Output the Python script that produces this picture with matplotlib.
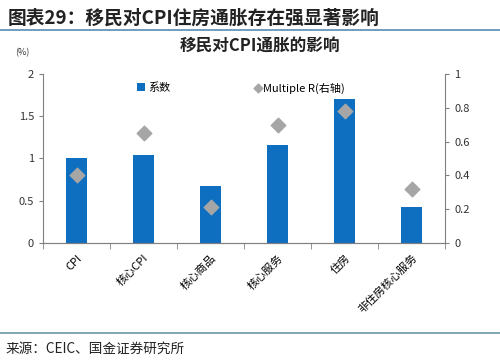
import matplotlib
matplotlib.use('Agg')
import matplotlib.pyplot as plt
import numpy as np

plt.rcParams['font.family'] = ['Noto Sans CJK SC', 'DejaVu Sans']

# dados
categorias = ['CPI', '核心CPI', '核心商品', '核心服务', '住房', '非住房核心服务']
coeficientes = [1.00, 1.04, 0.67, 1.16, 1.70, 0.43]
multiple_r = [0.40, 0.65, 0.21, 0.70, 0.78, 0.32]

cor_barra = '#0E6EBF'
cor_losango = '#A6A6A6'

fig = plt.figure(figsize=(5, 3.61), dpi=100)
ax = fig.add_axes([0.086, 0.327, 0.804, 0.468])
ax2 = ax.twinx()

x = np.arange(len(categorias))
ax.bar(x, coeficientes, width=0.31, color=cor_barra, label='系数', zorder=2)
ax2.scatter(x, multiple_r, marker='D', s=55, color=cor_losango, label='Multiple R(右轴)', zorder=3)

ax.set_xlim(-0.5, len(categorias) - 0.5)
ax.set_ylim(0, 2)
ax2.set_ylim(0, 1)
ax.set_yticks([0, 0.5, 1, 1.5, 2])
ax.set_yticklabels(['0', '0.5', '1', '1.5', '2'])
ax2.set_yticks([0, 0.2, 0.4, 0.6, 0.8, 1])
ax2.set_yticklabels(['0', '0.2', '0.4', '0.6', '0.8', '1'])

# marcas do eixo x entre as categorias
ax.set_xticks(x)
ax.set_xticklabels(categorias, rotation=45, ha='right', rotation_mode='anchor', fontsize=8)
ax.tick_params(axis='x', length=0, pad=7)
ax.set_xticks(np.arange(-0.5, len(categorias)), minor=True)
ax.tick_params(axis='x', which='minor', length=4, color='#808080')

for a in (ax, ax2):
    a.spines['top'].set_visible(False)
    for s in a.spines.values():
        s.set_color('#808080')
    a.tick_params(axis='y', labelsize=8, length=3, color='#808080', labelcolor='#333333')
ax.spines['right'].set_visible(False)
ax2.spines['left'].set_visible(False)

# legenda
ax.legend(loc='upper left', bbox_to_anchor=(0.21, 1.01), frameon=False, fontsize=8,
          handlelength=0.7, handleheight=0.7, handletextpad=0.3)
ax2.legend(loc='upper left', bbox_to_anchor=(0.5, 1.01), frameon=False, fontsize=8,
           handlelength=0.7, handletextpad=0.1, scatterpoints=1, markerscale=0.6)

# titulos e textos
fig.text(0.016, 0.95, '图表29：移民对CPI住房通胀存在强显著影响', fontsize=13.5,
         fontweight='bold', color='#222222', va='center')
fig.add_artist(plt.Line2D([0.0, 1.0], [0.918, 0.918], color='#5A8AB0', lw=1.2))
fig.text(0.52, 0.873, '移民对CPI通胀的影响', fontsize=12, fontweight='bold',
         ha='center', va='center', color='#222222')
fig.text(0.03, 0.855, '(%)', fontsize=6.5, va='center', color='#333333')
fig.add_artist(plt.Line2D([0.0, 1.0], [0.078, 0.078], color='#6A9AA8', lw=1.2))
fig.text(0.012, 0.035, '来源：CEIC、国金证券研究所', fontsize=9.8, va='center', color='#222222')

plt.savefig('out.png', dpi=100)
